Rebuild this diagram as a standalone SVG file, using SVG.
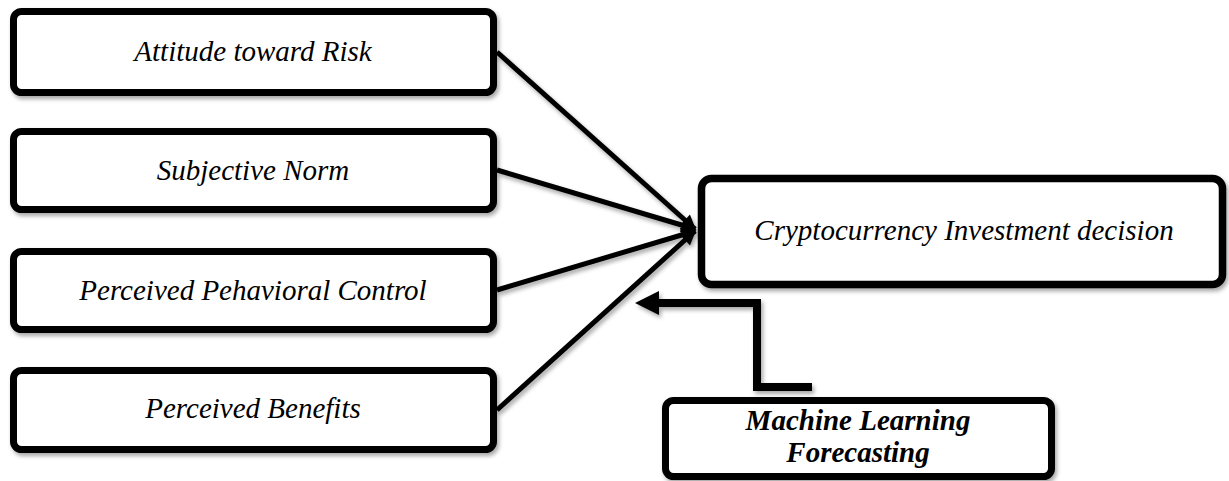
<svg xmlns="http://www.w3.org/2000/svg" width="1229" height="481" viewBox="0 0 1229 481">
<defs>
<filter id="sh" x="-10%" y="-10%" width="130%" height="140%">
<feDropShadow dx="2" dy="3" stdDeviation="2" flood-color="#000" flood-opacity="0.35"/>
</filter>
<marker id="ah" viewBox="0 0 10 10" refX="9" refY="5" markerWidth="3.2" markerHeight="3" markerUnits="strokeWidth" orient="auto">
<path d="M0,0 L10,5 L0,10 z" fill="#000"/>
</marker>
<style>
.box{fill:#fff;stroke:#000;stroke-width:7;filter:url(#sh)}
.t{font-family:"Liberation Serif","Times New Roman",serif;font-style:italic;font-size:29px;fill:#000;text-anchor:middle}
.b{font-weight:bold}
.ln{stroke:#000;stroke-width:5;fill:none;marker-end:url(#ah)}
</style>
</defs>
<g id="connectors" filter="url(#sh)">
<line class="ln" x1="497" y1="52" x2="695" y2="229"/>
<line class="ln" x1="497" y1="170" x2="695" y2="229"/>
<line class="ln" x1="497" y1="290" x2="695" y2="231"/>
<line class="ln" x1="497" y1="410" x2="695" y2="231"/>
<polyline points="812,387 757,387 757,303 656,303" fill="none" stroke="#000" stroke-width="8"/>
<polygon points="635,303 659,291 659,315" fill="#000"/>
</g>
<g id="n1"><rect class="box" x="13.5" y="11.5" width="480" height="81" rx="8"/><text class="t" x="253" y="61">Attitude toward Risk</text></g>
<g id="n2"><rect class="box" x="13.5" y="131.5" width="480" height="78" rx="8"/><text class="t" x="253" y="180">Subjective Norm</text></g>
<g id="n3"><rect class="box" x="13.5" y="251.5" width="480" height="78" rx="8"/><text class="t" x="253" y="300">Perceived Pehavioral Control</text></g>
<g id="n4"><rect class="box" x="13.5" y="370.5" width="480" height="79" rx="8"/><text class="t" x="253" y="418">Perceived Benefits</text></g>
<g id="n5"><rect class="box" x="701.5" y="178.5" width="521" height="106" rx="10" style="stroke-width:7.5"/><text class="t" x="964" y="240">Cryptocurrency Investment decision</text></g>
<g id="n6"><rect class="box" x="665.5" y="400.5" width="386" height="76" rx="8"/><text class="t b" x="858" y="430">Machine Learning</text><text class="t b" x="858" y="462">Forecasting</text></g>
</svg>
